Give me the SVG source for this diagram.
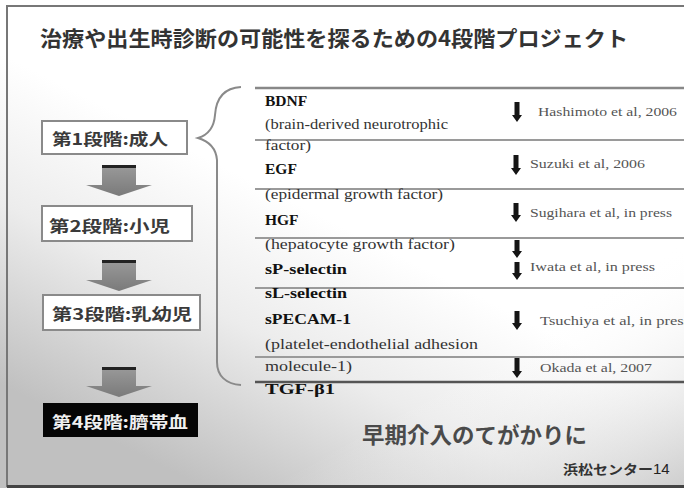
<svg xmlns="http://www.w3.org/2000/svg" width="684" height="488" viewBox="0 0 684 488">
<defs>
<linearGradient id="bg" x1="0.62" y1="0.55" x2="0.3" y2="1" gradientUnits="objectBoundingBox">
<stop offset="0" stop-color="#ffffff"/>
<stop offset="0.45" stop-color="#ececec"/>
<stop offset="1" stop-color="#c0c0c0"/>
</linearGradient>
<linearGradient id="bg2" x1="0.75" y1="0.7" x2="1" y2="1">
<stop offset="0" stop-color="#ffffff" stop-opacity="0"/>
<stop offset="1" stop-color="#c4c4c4" stop-opacity="0.8"/>
</linearGradient>
<linearGradient id="arr" x1="0" y1="0" x2="0" y2="1">
<stop offset="0" stop-color="#9a9a9a"/>
<stop offset="1" stop-color="#7a7a7a"/>
</linearGradient>
</defs>
<style>
.jp{font-family:"Noto Sans CJK JP","Noto Sans",sans-serif;font-weight:bold;}
.box{fill:#fff;stroke:#8a8a8a;stroke-width:2;}
.lbl{font-size:16px;fill:#3a3a3a;}
.rl{stroke:#9a9a9a;stroke-width:2;}
.tm{font-family:"Liberation Serif","Times New Roman",serif;font-size:15.5px;fill:#333;}
.b{font-weight:bold;fill:#111;}
.ref{font-family:"Liberation Serif","Times New Roman",serif;font-size:11.5px;fill:#555;}
.da{fill:#151515;}
</style>
<rect x="0" y="0" width="684" height="488" fill="url(#bg)"/>
<rect x="0" y="0" width="684" height="488" fill="url(#bg2)"/>
<path d="M7,487 V6 H684" fill="none" stroke="#777" stroke-width="2"/>
<line x1="7" y1="486.5" x2="684" y2="486.5" stroke="#444" stroke-width="3"/>

<text class="jp" x="40" y="46" font-size="21" fill="#333" textLength="588" lengthAdjust="spacingAndGlyphs">治療や出生時診断の可能性を探るための4段階プロジェクト</text>

<g id="stage1"><rect class="box" x="42" y="121" width="145" height="33"/><text class="jp lbl" x="52" y="145" textLength="116" lengthAdjust="spacingAndGlyphs">第1段階:成人</text></g>
<g id="stage2"><rect class="box" x="42" y="206" width="150" height="35"/><text class="jp lbl" x="49" y="232" textLength="121" lengthAdjust="spacingAndGlyphs">第2段階:小児</text></g>
<g id="stage3"><rect class="box" x="43" y="295" width="157" height="35"/><text class="jp lbl" x="52" y="320" textLength="140" lengthAdjust="spacingAndGlyphs">第3段階:乳幼児</text></g>
<g id="stage4"><rect x="43" y="403" width="155" height="34" fill="#050505"/><text class="jp lbl" x="52" y="428" textLength="136" lengthAdjust="spacingAndGlyphs" style="fill:#f0f0f0">第4段階:臍帯血</text></g>

<g id="connectors">
<g transform="translate(0,165)"><path d="M102,0 H136 V20 H152 L119,31 L86,20 H102 Z" fill="url(#arr)"/><rect x="102" y="0" width="34" height="3" fill="#222"/></g>
<g transform="translate(0,260)"><path d="M102,0 H136 V20 H152 L119,31 L86,20 H102 Z" fill="url(#arr)"/><rect x="102" y="0" width="34" height="3" fill="#222"/></g>
<g transform="translate(0,367)"><path d="M102,0 H136 V19 H152 L119,30 L86,19 H102 Z" fill="url(#arr)"/><rect x="102" y="0" width="34" height="3" fill="#222"/></g>
<path d="M241,87 C222,88 216,100 215,115 C214,128 208,135 198,138 C208,141 216,148 217,160 V362 C217,376 226,384 241,385" fill="none" stroke="#8a8a8a" stroke-width="2"/>
</g>

<g id="table">
<line class="rl" x1="255" y1="88" x2="684" y2="88" style="stroke:#888;stroke-width:2.5"/>
<line class="rl" x1="255" y1="140" x2="684" y2="140"/>
<line class="rl" x1="255" y1="189" x2="684" y2="189"/>
<line class="rl" x1="255" y1="238" x2="684" y2="238"/>
<line class="rl" x1="255" y1="288" x2="684" y2="288"/>
<line class="rl" x1="255" y1="357" x2="684" y2="357"/>
<line x1="255" y1="382" x2="684" y2="382" stroke="#555" stroke-width="2.5"/>

<text class="tm b" x="265" y="106">BDNF</text>
<text class="tm" x="265" y="129" textLength="183" lengthAdjust="spacingAndGlyphs">(brain-derived neurotrophic</text>
<text class="tm" x="265" y="150" textLength="46" lengthAdjust="spacingAndGlyphs">factor)</text>
<text class="tm b" x="265" y="174">EGF</text>
<text class="tm" x="265" y="199" textLength="178" lengthAdjust="spacingAndGlyphs">(epidermal growth factor)</text>
<text class="tm b" x="265" y="225">HGF</text>
<text class="tm" x="265" y="249" textLength="190" lengthAdjust="spacingAndGlyphs">(hepatocyte growth factor)</text>
<text class="tm b" x="265" y="274" textLength="82" lengthAdjust="spacingAndGlyphs">sP-selectin</text>
<text class="tm b" x="265" y="298" textLength="82" lengthAdjust="spacingAndGlyphs">sL-selectin</text>
<text class="tm b" x="265" y="324" textLength="86" lengthAdjust="spacingAndGlyphs">sPECAM-1</text>
<text class="tm" x="265" y="349" textLength="213" lengthAdjust="spacingAndGlyphs">(platelet-endothelial adhesion</text>
<text class="tm" x="265" y="371" textLength="87" lengthAdjust="spacingAndGlyphs">molecule-1)</text>
<text class="tm b" x="265" y="394" textLength="70" lengthAdjust="spacingAndGlyphs">TGF-β1</text>

<path class="da" d="M514.5,102 H519.5 V115 H522 L517,122 L512,115 H514.5 Z"/>
<path class="da" d="M513.5,155 H518.5 V168 H521 L516,175 L511,168 H513.5 Z"/>
<path class="da" d="M513.5,203 H518.5 V215 H521 L516,222 L511,215 H513.5 Z"/>
<path class="da" d="M514.5,240 H519.5 V251 H522 L517,258 L512,251 H514.5 Z"/>
<path class="da" d="M514.5,262 H519.5 V273 H522 L517,280 L512,273 H514.5 Z"/>
<path class="da" d="M514.5,311 H519.5 V323 H522 L517,330 L512,323 H514.5 Z"/>
<path class="da" d="M514.5,358 H519.5 V371 H522 L517,378 L512,371 H514.5 Z"/>

<text class="ref" x="538" y="116" textLength="139" lengthAdjust="spacingAndGlyphs">Hashimoto et al, 2006</text>
<text class="ref" x="530" y="168" textLength="115" lengthAdjust="spacingAndGlyphs">Suzuki et al, 2006</text>
<text class="ref" x="530" y="217" textLength="142" lengthAdjust="spacingAndGlyphs">Sugihara et al, in press</text>
<text class="ref" x="530" y="271" textLength="125" lengthAdjust="spacingAndGlyphs">Iwata et al, in press</text>
<text class="ref" x="540" y="325" textLength="150" lengthAdjust="spacingAndGlyphs">Tsuchiya et al, in press</text>
<text class="ref" x="540" y="372" textLength="112" lengthAdjust="spacingAndGlyphs">Okada et al, 2007</text>
</g>

<text class="jp" x="362" y="443" font-size="22" fill="#4a4a4a" textLength="225" lengthAdjust="spacingAndGlyphs">早期介入のてがかりに</text>
<text class="jp" x="563" y="474" font-size="13" fill="#333" textLength="90" lengthAdjust="spacingAndGlyphs">浜松センター</text>
<text x="653" y="474" font-family="Liberation Sans, Arial, sans-serif" font-size="15" fill="#222">14</text>
</svg>
